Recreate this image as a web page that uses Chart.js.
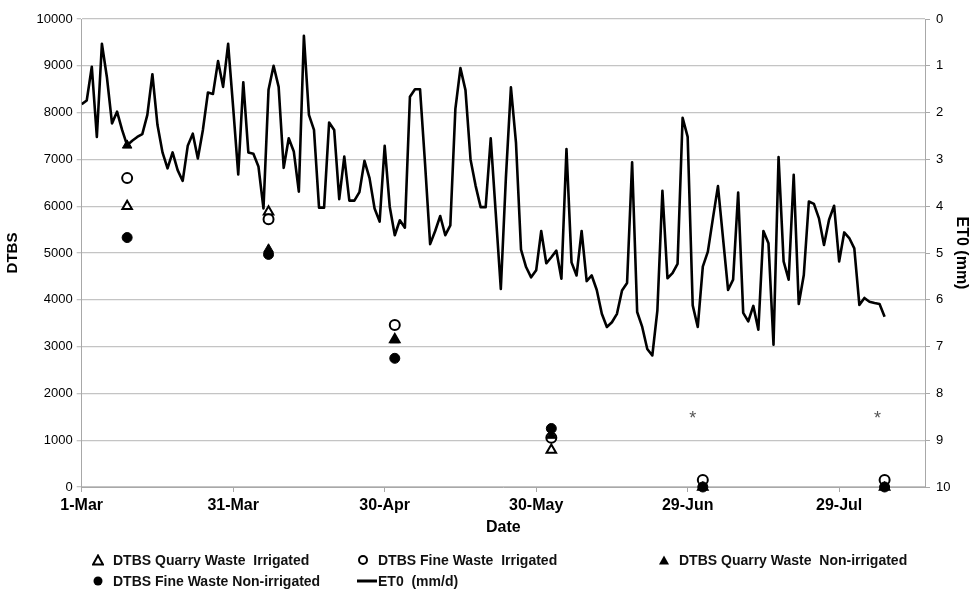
<!DOCTYPE html>
<html>
<head>
<meta charset="utf-8">
<script src="https://cdn.jsdelivr.net/npm/chart.js@4.4.1/dist/chart.umd.min.js"></script>
<style>
  html, body { margin: 0; padding: 0; background: #fff; }
  #wrap { position: relative; width: 971px; height: 589px; overflow: hidden; }
  #chart { position: absolute; left: 0; top: 0; }
  .lg-item { position: absolute; height: 18px; font: bold 14px "Liberation Sans", Arial, sans-serif; color: #111; white-space: pre; line-height: 18px; }
  .lg-item svg { position: absolute; top: 3px; left: 0; }
  .lg-item span { position: absolute; top: 0; left: 21px; }
</style>
</head>
<body>
<div id="wrap">
  <canvas id="chart" width="971" height="589"></canvas>
  <div id="legend"></div>
</div>
<script>
// Day numbers counted from 1 March; axis ticks every 30 days
const xTickDays = [0, 30, 60, 90, 120, 150];
const xTickLabels = ['1-Mar', '31-Mar', '30-Apr', '30-May', '29-Jun', '29-Jul'];

// Sampling days of the DTBS measurements
const sampleDays = [9, 37, 62, 93, 123, 159];
const quarryIrrigated    = [6000, 5880, 3150, 790, 0, 0];
const fineIrrigated      = [6600, 5720, 3460, 1050, 150, 150];
const quarryNonIrrigated = [7300, 5080, 3140, 1100, 0, 0];
const fineNonIrrigated   = [5330, 4970, 2750, 1250, 0, 0];

// Significance marks
const starDays = [121, 157.6];
const starValues = [1520, 1520];

// Daily reference evapotranspiration (mm/d), from 1 March
const et0 = [
  1.82, 1.74, 1.02, 2.52, 0.53, 1.25, 2.23, 1.98, 2.37, 2.70,
  2.60, 2.52, 2.46, 2.05, 1.18, 2.26, 2.85, 3.19, 2.85, 3.23,
  3.46, 2.71, 2.45, 2.98, 2.37, 1.57, 1.60, 0.90, 1.45, 0.53,
  1.90, 3.32, 1.35, 2.85, 2.88, 3.15, 4.05, 1.51, 1.00, 1.45,
  3.18, 2.55, 2.83, 3.69, 0.36, 2.05, 2.37, 4.03, 4.03, 2.21,
  2.37, 3.85, 2.94, 3.88, 3.88, 3.70, 3.03, 3.40, 4.05, 4.33,
  2.71, 4.01, 4.62, 4.30, 4.46, 1.66, 1.50, 1.50, 3.10, 4.81,
  4.53, 4.21, 4.62, 4.41, 1.92, 1.05, 1.52, 3.00, 3.56, 4.02,
  4.02, 2.55, 4.16, 5.77, 3.40, 1.46, 2.64, 4.93, 5.30, 5.52,
  5.37, 4.53, 5.22, 5.09, 4.95, 5.55, 2.78, 5.20, 5.48, 4.53,
  5.60, 5.48, 5.79, 6.30, 6.58, 6.48, 6.30, 5.80, 5.64, 3.06,
  6.26, 6.58, 7.05, 7.19, 6.23, 3.67, 5.54, 5.43, 5.23, 2.11,
  2.52, 6.12, 6.58, 5.29, 4.97, 4.26, 3.57, 4.68, 5.79, 5.57,
  3.71, 6.28, 6.46, 6.13, 6.64, 4.53, 4.79, 6.96, 2.95, 5.18,
  5.57, 3.33, 6.09, 5.47, 3.90, 3.95, 4.26, 4.83, 4.29, 3.99,
  5.18, 4.56, 4.68, 4.90, 6.11, 5.96, 6.04, 6.07, 6.09, 6.36
];

const FONT = '"Liberation Sans", Arial, Helvetica, sans-serif';
Chart.defaults.font.family = FONT;
Chart.defaults.color = '#000';

const pts = vals => sampleDays.map((d, i) => ({ x: d, y: vals[i] }));

const markerBase = { type: 'scatter', yAxisID: 'y', clip: false, pointRadius: 5, pointHoverRadius: 5 };

const datasets = [
  Object.assign({}, markerBase, {
    label: 'DTBS Quarry Waste  Irrigated', data: pts(quarryIrrigated), order: 4,
    pointStyle: 'triangle', pointRadius: 5.5, backgroundColor: '#fff', borderColor: '#000', borderWidth: 2
  }),
  Object.assign({}, markerBase, {
    label: 'DTBS Fine Waste  Irrigated', data: pts(fineIrrigated), order: 3,
    pointStyle: 'circle', backgroundColor: '#fff', borderColor: '#000', borderWidth: 2
  }),
  Object.assign({}, markerBase, {
    label: 'DTBS Quarry Waste  Non-irrigated', data: pts(quarryNonIrrigated), order: 2,
    pointStyle: 'triangle', pointRadius: 5.5, backgroundColor: '#000', borderColor: '#000', borderWidth: 1
  }),
  Object.assign({}, markerBase, {
    label: 'DTBS Fine Waste Non-irrigated', data: pts(fineNonIrrigated), order: 1,
    pointStyle: 'circle', backgroundColor: '#000', borderColor: '#000', borderWidth: 1
  }),
  {
    type: 'line', label: 'ET0  (mm/d)', yAxisID: 'y2', order: 5,
    data: et0.map((v, i) => ({ x: i, y: v })),
    borderColor: '#000', borderWidth: 2.6, pointRadius: 0, tension: 0, fill: false,
    borderJoinStyle: 'round'
  }
];

// Draws the asterisks above the last two sampling dates
const starPlugin = {
  id: 'stars',
  afterDatasetsDraw(chart) {
    const { ctx, scales } = chart;
    ctx.save();
    ctx.fillStyle = '#555';
    ctx.font = '18px ' + FONT;
    ctx.textAlign = 'center';
    ctx.textBaseline = 'middle';
    starDays.forEach((d, i) => {
      ctx.fillText('*', scales.x.getPixelForValue(d), scales.y.getPixelForValue(starValues[i]) + 3);
    });
    ctx.restore();
  }
};

const axisGrey = '#a8a8a8';

const chart = new Chart(document.getElementById('chart'), {
  data: { datasets },
  plugins: [starPlugin],
  options: {
    responsive: false,
    animation: false,
    events: [],
    layout: { padding: { top: 19, bottom: 47, left: 0, right: 0 } },
    plugins: { legend: { display: false }, tooltip: { enabled: false } },
    scales: {
      x: {
        type: 'linear', min: 0, max: 167,
        afterBuildTicks: s => { s.ticks = xTickDays.map(v => ({ value: v })); },
        afterFit: s => { s.height = 55; },
        ticks: {
          autoSkip: false, maxRotation: 0, padding: 4,
          font: { size: 16, weight: 'bold' }, color: '#000',
          callback: v => xTickLabels[xTickDays.indexOf(v)]
        },
        grid: { drawOnChartArea: false, tickLength: 5, color: axisGrey },
        border: { color: axisGrey, width: 1 },
        title: { display: true, text: 'Date', font: { size: 16, weight: 'bold' }, color: '#000', padding: { top: 0, bottom: 5 } }
      },
      y: {
        position: 'left', min: 0, max: 10000,
        afterFit: s => { s.width = 81.7; },
        ticks: { stepSize: 1000, padding: 4, font: { size: 13 }, color: '#000', callback: v => String(v) },
        grid: { color: '#c4c4c4', lineWidth: 1.3, tickLength: 5 },
        border: { color: axisGrey, width: 1 },
        title: { display: true, text: 'DTBS', font: { size: 15, weight: 'bold' }, color: '#000', padding: { top: 4, bottom: 4 } }
      },
      y2: {
        position: 'right', min: 0, max: 10, reverse: true,
        afterFit: s => { s.width = 46; },
        ticks: { stepSize: 1, padding: 6, font: { size: 13 }, color: '#000', callback: v => String(v) },
        grid: { drawOnChartArea: false, tickLength: 5, color: axisGrey },
        border: { color: axisGrey, width: 1 },
        title: { display: true, text: 'ET0 (mm)', font: { size: 16, weight: 'bold' }, color: '#000', padding: { top: 0, bottom: 0 } }
      }
    }
  }
});

// Legend laid out in three columns below the plot
const legendCols = [92, 357, 658];
const legendRows = [551, 572];
const legendSlots = [[0, 0], [1, 0], [2, 0], [0, 1], [1, 1]];
const legendIcons = [
  '<svg width="12" height="12"><polygon points="6,1.5 11,10.5 1,10.5" fill="#fff" stroke="#000" stroke-width="2"/></svg>',
  '<svg width="12" height="12"><circle cx="6" cy="6" r="4" fill="#fff" stroke="#000" stroke-width="2"/></svg>',
  '<svg width="12" height="12"><polygon points="6,1.5 11,10.5 1,10.5" fill="#000"/></svg>',
  '<svg width="12" height="12"><circle cx="6" cy="6" r="4.5" fill="#000"/></svg>',
  '<svg width="20" height="12"><line x1="0" y1="6" x2="20" y2="6" stroke="#000" stroke-width="3"/></svg>'
];
const legendEl = document.getElementById('legend');
datasets.forEach((ds, i) => {
  const [c, r] = legendSlots[i];
  const item = document.createElement('div');
  item.className = 'lg-item';
  item.style.left = legendCols[c] + 'px';
  item.style.top = legendRows[r] + 'px';
  item.innerHTML = legendIcons[i] + '<span>' + ds.label + '</span>';
  legendEl.appendChild(item);
});
</script>
</body>
</html>
